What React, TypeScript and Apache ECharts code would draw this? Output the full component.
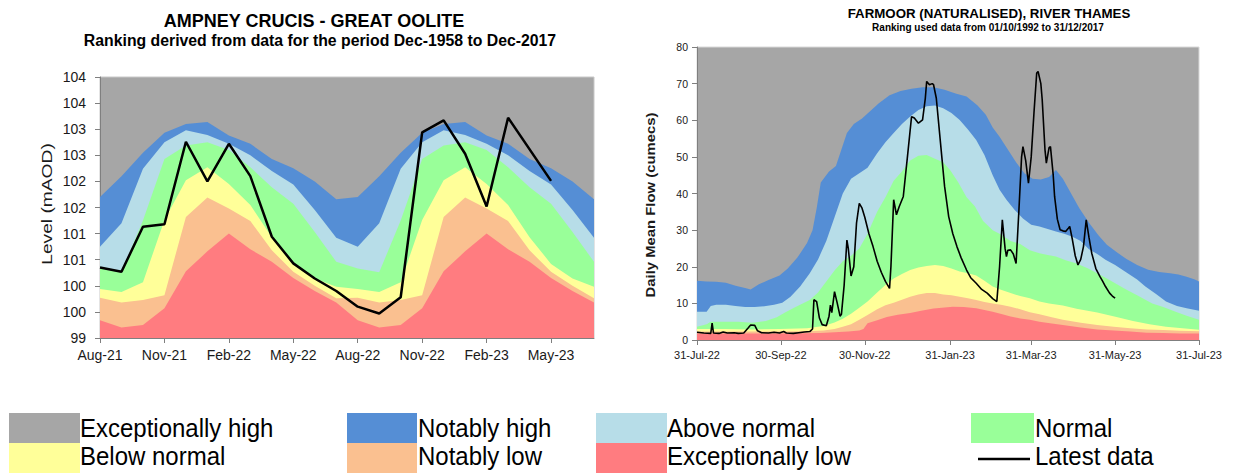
import React, { useEffect, useRef } from 'react';
import * as echarts from 'echarts';

const FONT = "'Liberation Sans', Arial, sans-serif";

// ---------- Left chart: Ampney Crucis groundwater level (monthly) ----------
const levelMonths = ['Aug-21','Sep-21','Oct-21','Nov-21','Dec-21','Jan-22','Feb-22','Mar-22','Apr-22','May-22','Jun-22','Jul-22','Aug-22','Sep-22','Oct-22','Nov-22','Dec-22','Jan-23','Feb-23','Mar-23','Apr-23','May-23','Jun-23','Jul-23'];
const levelNotablyHighTop = [101.7,102.1,102.55,102.93,103.1,103.14,102.88,102.72,102.43,102.25,102.0,101.66,101.7,102.1,102.55,102.93,103.1,103.14,102.88,102.72,102.43,102.25,102.0,101.66];
const levelAboveNormalTop = [100.75,101.2,102.24,102.75,102.98,102.89,102.72,102.5,102.2,101.94,101.45,100.92,100.75,101.2,102.24,102.75,102.98,102.89,102.72,102.5,102.2,101.94,101.45,100.92];
const levelNormalTop = [100.33,100.26,101.25,102.43,102.69,102.75,102.6,102.27,101.89,101.57,101.03,100.46,100.33,100.26,101.25,102.43,102.69,102.75,102.6,102.27,101.89,101.57,101.03,100.46];
const levelBelowNormalTop = [99.94,99.88,100.07,101.26,102.02,102.27,101.95,101.55,100.93,100.42,100.14,99.98,99.94,99.88,100.07,101.26,102.02,102.27,101.95,101.55,100.93,100.42,100.14,99.98];
const levelNotablyLowTop = [99.77,99.68,99.73,99.82,101.32,101.69,101.48,101.24,100.68,100.27,100.0,99.76,99.77,99.68,99.73,99.82,101.32,101.69,101.48,101.24,100.68,100.27,100.0,99.76];
const levelExLowTop = [99.34,99.2,99.25,99.57,100.28,100.66,101.0,100.7,100.46,100.15,99.9,99.68,99.34,99.2,99.25,99.57,100.28,100.66,101.0,100.7,100.46,100.15,99.9,99.68];
const levelLatest = [100.35,100.27,101.13,101.18,102.76,102.0,102.72,102.1,100.94,100.43,100.14,99.9,99.6,99.47,99.78,102.94,103.17,102.53,101.52,103.22,null,102.01,null,null];

// ---------- Right chart: Farmoor flow (daily, day 0 = 31-Jul-22) ----------
const flowTickDays = [0, 61, 122, 184, 243, 304, 365];
const flowTickLabels = ['31-Jul-22','30-Sep-22','30-Nov-22','31-Jan-23','31-Mar-23','31-May-23','31-Jul-23'];

const flowNotablyHighTop = [[0,16.2],[7,16.0],[14,15.9],[21,15.6],[28,14.8],[35,14.2],[39,13.8],[45,15.2],[52,16.4],[60,17.6],[66,19.5],[73,22.5],[80,26.5],[84,30],[87,36],[90,43],[96,46],[101,47.5],[105,52],[109,56.5],[114,59],[120,60.5],[126,62.5],[132,64.6],[140,66.8],[148,68],[156,68.6],[164,69],[172,69],[180,68.3],[188,67.3],[196,66.5],[204,64],[210,61.5],[215,58],[220,55.5],[226,52],[232,48.5],[238,45.5],[244,44],[250,43.8],[256,44.5],[261,46.4],[266,44],[272,40],[278,36],[285,32],[292,28.5],[298,26],[305,24],[312,22.2],[320,20.5],[328,19.2],[336,18.6],[344,18.2],[350,17.9],[356,17.3],[362,16.5],[365,16]];
const flowAboveNormalTop = [[0,7.7],[7,7.7],[10,9.3],[14,9.6],[21,9.6],[28,9.3],[35,9.0],[42,9.0],[49,9.2],[56,9.6],[62,10.2],[68,11.8],[75,14.6],[82,18.2],[88,22],[94,27],[100,33.5],[106,40],[112,44],[118,45.5],[124,47],[131,51],[137,54],[143,56.5],[149,59],[155,61],[161,62.8],[167,63.8],[173,64],[179,63.3],[185,62],[191,60.1],[197,57.5],[203,54.6],[209,50.5],[215,45],[220,41],[225,38.3],[231,35.5],[237,33.2],[243,31.5],[249,31],[255,30.3],[261,29.6],[267,29],[273,28.2],[279,27],[285,24.8],[291,23.5],[297,21.9],[304,20.5],[312,18.5],[320,16.5],[326,14.6],[334,12.5],[341,10.5],[349,9.3],[356,8.7],[365,8.0]];
const flowNormalTop = [[0,3.6],[7,4.3],[10,5.0],[20,5.0],[30,5.0],[40,4.7],[50,5.2],[58,6.2],[64,7.5],[72,9.1],[82,10.9],[88,13],[94,16],[100,19],[106,21.5],[112,23],[118,25],[124,29],[131,35],[137,39],[143,43.5],[149,46],[155,49],[161,50.3],[167,50.5],[173,49.5],[179,48.5],[184,46.4],[190,43],[196,39],[202,36.5],[208,32.5],[215,30],[221,28.8],[228,27],[235,26.2],[242,24.5],[249,23.7],[255,23.2],[261,22.8],[268,21.8],[276,20.9],[284,19.6],[291,18.2],[298,16.8],[305,15.3],[312,13.8],[320,12.2],[331,10],[339,9],[348,7.7],[356,6.6],[365,5.5]];
const flowBelowNormalTop = [[0,3.0],[20,3.0],[40,2.9],[60,3.0],[80,3.2],[92,3.8],[100,4.8],[106,5.8],[112,7.2],[118,8.8],[124,10.5],[131,13],[137,15],[143,16.8],[149,18],[155,19.1],[161,19.8],[167,20.2],[173,20.5],[179,20.2],[185,19.5],[191,18.7],[197,18.2],[203,17.6],[209,16.2],[215,14.6],[221,13.7],[228,12.8],[235,12],[242,11.4],[249,10.5],[256,10],[266,9.4],[276,8.5],[291,7.5],[305,6.3],[317,5.2],[329,4.3],[341,3.6],[353,3.2],[365,2.8]];
const flowNotablyLowTop = [[0,2.3],[40,2.3],[80,2.4],[92,2.6],[100,3.0],[106,3.6],[112,4.3],[118,5.5],[124,6.8],[131,8.4],[137,9.5],[143,10.2],[149,11],[155,11.8],[161,12.4],[167,12.8],[173,12.8],[179,12.4],[185,12.2],[191,11.8],[197,11.4],[203,10.9],[209,10.4],[215,10],[221,9.6],[228,9.1],[235,8.4],[242,7.6],[249,7],[258,6.2],[266,5.5],[279,4.7],[291,4.1],[303,3.6],[315,3.2],[327,2.9],[339,2.7],[351,2.5],[365,2.4]];
const flowExLowTop = [[0,1.8],[30,1.8],[60,1.8],[90,1.9],[100,2.1],[110,2.3],[118,2.6],[121,3.0],[124,4.6],[131,5.4],[138,6.3],[146,6.9],[155,7.4],[163,8.0],[172,8.6],[180,8.9],[186,9.1],[194,9.0],[203,8.7],[209,8.2],[215,7.7],[222,7.0],[228,6.4],[235,5.9],[242,5.5],[249,5.0],[258,4.5],[266,4.1],[279,3.4],[291,2.9],[303,2.6],[315,2.3],[327,2.0],[339,1.9],[351,1.8],[365,1.8]];
const flowLatest = [[0,2.1],[5,1.9],[10,1.8],[11,4.6],[12,1.9],[16,1.8],[19,2.2],[22,1.9],[27,2.0],[30,1.8],[34,1.9],[37,3.2],[39,4.1],[42,4.0],[44,2.5],[47,2.0],[52,1.9],[56,2.1],[60,1.9],[63,2.3],[65,1.9],[70,1.8],[74,2.0],[78,2.2],[82,2.3],[84,3.0],[85,11.0],[87,10.5],[89,6.0],[91,4.2],[94,3.9],[96,6.5],[97,9.5],[98,7.5],[100,13.2],[102,10],[104,6.5],[105,7.0],[107,15],[109,27.3],[110,25],[112,17.5],[114,20],[116,32],[118,37.3],[120,36],[122,33.5],[125,29],[128,25.5],[131,21.5],[134,18.5],[137,16],[140,14.1],[141,20],[143,38.3],[145,34.2],[147,36.4],[150,39.2],[153,50],[156,61],[158,60.6],[161,59.2],[164,60.1],[166,66],[167,70.6],[169,69.7],[171,70],[172,69.7],[174,66],[176,58],[178,50],[180,42],[183,33.7],[186,29],[189,25.5],[192,22.5],[196,19.1],[199,17],[203,15.5],[207,13.8],[211,12.8],[215,11.3],[218,10.5],[220,20],[222,32.8],[224,25],[225,22.8],[226,24.5],[228,24.6],[230,23.5],[232,20.9],[234,35],[236,50],[237,52.8],[239,49],[241,42.8],[243,50],[245,62],[247,72.9],[248,73.3],[250,70],[251,65.6],[253,52],[254,48.3],[256,52.5],[257,52.8],[259,45],[260,39.2],[262,33],[264,30.1],[266,29.8],[268,29.6],[270,30.5],[271,31],[273,27.3],[275,23],[277,20.5],[279,22],[281,25.5],[283,32.8],[285,28],[287,23.7],[290,19.5],[293,17.3],[295,16],[297,14.6],[300,12.8],[302,12],[304,11.4]];

// ---------- Legend ----------
const legendNames = ['Exceptionally high','Notably high','Above normal','Normal','Below normal','Notably low','Exceptionally low','Latest data'];
const COLORS = {
  exHigh: '#a6a6a6',
  notHigh: '#558ed5',
  above: '#b7dde8',
  normal: '#99ff99',
  below: '#ffff99',
  notLow: '#fac090',
  exLow: '#ff7c80',
};

function band(data: any[], color: string, xi: number) {
  return {
    type: 'line', xAxisIndex: xi, yAxisIndex: xi, data,
    symbol: 'none', showSymbol: false, silent: true,
    lineStyle: { width: 0, color },
    itemStyle: { color },
    areaStyle: { color, opacity: 1, origin: 'start' },
  };
}

function legendText(text: string, x: number, y: number) {
  return { type: 'text', x, y, scaleY: 1.04, style: { text, font: `24px ${FONT}`, fill: '#000', verticalAlign: 'middle' } };
}

export default function App() {
  const ref = useRef<HTMLDivElement>(null);
  useEffect(() => {
    const chart = echarts.init(ref.current!, null, { renderer: 'svg' });
    const axisGray = '#7f7f7f';
    const labelColor = '#1a1a1a';
    const option: any = {
      animation: false,
      backgroundColor: '#ffffff',
      textStyle: { fontFamily: FONT },
      grid: [
        { left: 100, top: 77, width: 494, height: 261, show: true, backgroundColor: COLORS.exHigh, borderColor: '#c8c8c8', borderWidth: 1 },
        { left: 697, top: 47, width: 502, height: 293, show: true, backgroundColor: COLORS.exHigh, borderColor: '#d8d8d8', borderWidth: 1 },
      ],
      xAxis: [
        {
          type: 'category', gridIndex: 0, data: levelMonths, boundaryGap: false,
          axisLine: { show: true, lineStyle: { color: axisGray } },
          axisTick: { show: true, interval: 2, length: 5, lineStyle: { color: axisGray } },
          axisLabel: { interval: 2, fontSize: 14, color: labelColor, fontFamily: FONT, margin: 10 },
          splitLine: { show: false },
        },
        {
          type: 'value', gridIndex: 1, min: 0, max: 365,
          axisLine: { show: true, lineStyle: { color: axisGray } },
          axisTick: { show: true, length: 5, customValues: flowTickDays, lineStyle: { color: axisGray } },
          axisLabel: {
            customValues: flowTickDays, fontSize: 11, color: labelColor, fontFamily: FONT, margin: 9,
            formatter: (v: number) => { const i = flowTickDays.indexOf(v); return i >= 0 ? flowTickLabels[i] : ''; },
          },
          splitLine: { show: false },
        },
      ],
      yAxis: [
        {
          type: 'value', gridIndex: 0, min: 99, max: 104, interval: 0.5,
          axisLine: { show: true, lineStyle: { color: axisGray } },
          axisTick: { show: true, length: 5, lineStyle: { color: axisGray } },
          axisLabel: { fontSize: 14, color: labelColor, fontFamily: FONT, margin: 14, formatter: (v: number) => String(Math.round(v)) },
          splitLine: { show: false },
        },
        {
          type: 'value', gridIndex: 1, min: 0, max: 80, interval: 10,
          axisLine: { show: true, lineStyle: { color: axisGray } },
          axisTick: { show: true, length: 5, lineStyle: { color: axisGray } },
          axisLabel: { fontSize: 10.5, color: labelColor, fontFamily: FONT, margin: 9 },
          splitLine: { show: false },
        },
      ],
      series: [
        band(levelNotablyHighTop, COLORS.notHigh, 0),
        band(levelAboveNormalTop, COLORS.above, 0),
        band(levelNormalTop, COLORS.normal, 0),
        band(levelBelowNormalTop, COLORS.below, 0),
        band(levelNotablyLowTop, COLORS.notLow, 0),
        band(levelExLowTop, COLORS.exLow, 0),
        {
          type: 'line', xAxisIndex: 0, yAxisIndex: 0, data: levelLatest, connectNulls: true,
          symbol: 'none', showSymbol: false, silent: true,
          lineStyle: { color: '#000000', width: 2.5 }, itemStyle: { color: '#000' },
        },
        band(flowNotablyHighTop, COLORS.notHigh, 1),
        band(flowAboveNormalTop, COLORS.above, 1),
        band(flowNormalTop, COLORS.normal, 1),
        band(flowBelowNormalTop, COLORS.below, 1),
        band(flowNotablyLowTop, COLORS.notLow, 1),
        band(flowExLowTop, COLORS.exLow, 1),
        {
          type: 'line', xAxisIndex: 1, yAxisIndex: 1, data: flowLatest,
          symbol: 'none', showSymbol: false, silent: true,
          lineStyle: { color: '#000000', width: 1.6 }, itemStyle: { color: '#000' },
        },
      ],
      graphic: [
        { type: 'text', x: 314, y: 21, style: { text: 'AMPNEY CRUCIS - GREAT OOLITE', font: `bold 18px ${FONT}`, fill: '#000', align: 'center', verticalAlign: 'middle' } },
        { type: 'text', x: 320, y: 40.5, style: { text: 'Ranking derived from data for the period Dec-1958 to Dec-2017', font: `bold 15.8px ${FONT}`, fill: '#000', align: 'center', verticalAlign: 'middle' } },
        { type: 'text', x: 989, y: 13, style: { text: 'FARMOOR (NATURALISED), RIVER THAMES', font: `bold 13.3px ${FONT}`, fill: '#000', align: 'center', verticalAlign: 'middle' } },
        { type: 'text', x: 988, y: 27, style: { text: 'Ranking used data from 01/10/1992 to 31/12/2017', font: `bold 10px ${FONT}`, fill: '#000', align: 'center', verticalAlign: 'middle' } },
        // axis titles
        { type: 'text', x: 47, y: 204, rotation: Math.PI / 2, scaleX: 1.28, style: { text: 'Level (mAOD)', font: `15px ${FONT}`, fill: labelColor, align: 'center', verticalAlign: 'middle' } },
        { type: 'text', x: 650, y: 205, rotation: Math.PI / 2, scaleX: 1.1, style: { text: 'Daily Mean Flow (cumecs)', font: `bold 13.5px ${FONT}`, fill: labelColor, align: 'center', verticalAlign: 'middle' } },
        // legend row 1
        { type: 'rect', shape: { x: 9, y: 413, width: 71, height: 30 }, style: { fill: COLORS.exHigh } },
        legendText(legendNames[0], 80, 428),
        { type: 'rect', shape: { x: 347, y: 413, width: 70, height: 30 }, style: { fill: COLORS.notHigh } },
        legendText(legendNames[1], 418, 428),
        { type: 'rect', shape: { x: 596, y: 413, width: 71, height: 30 }, style: { fill: COLORS.above } },
        legendText(legendNames[2], 667, 428),
        { type: 'rect', shape: { x: 971, y: 413, width: 63, height: 30 }, style: { fill: COLORS.normal } },
        legendText(legendNames[3], 1035, 428),
        // legend row 2
        { type: 'rect', shape: { x: 9, y: 443, width: 71, height: 30 }, style: { fill: COLORS.below } },
        legendText(legendNames[4], 80, 456),
        { type: 'rect', shape: { x: 347, y: 443, width: 70, height: 30 }, style: { fill: COLORS.notLow } },
        legendText(legendNames[5], 418, 456),
        { type: 'rect', shape: { x: 596, y: 443, width: 71, height: 30 }, style: { fill: COLORS.exLow } },
        legendText(legendNames[6], 667, 456),
        { type: 'line', shape: { x1: 978, y1: 459, x2: 1030, y2: 459 }, style: { stroke: '#000', lineWidth: 2.5 } },
        legendText(legendNames[7], 1035, 456),
      ],
    };
    chart.setOption(option);
    return () => chart.dispose();
  }, []);
  return <div ref={ref} style={{ position: 'fixed', left: 0, top: 0, width: 1233, height: 473, background: '#fff' }} />;
}
